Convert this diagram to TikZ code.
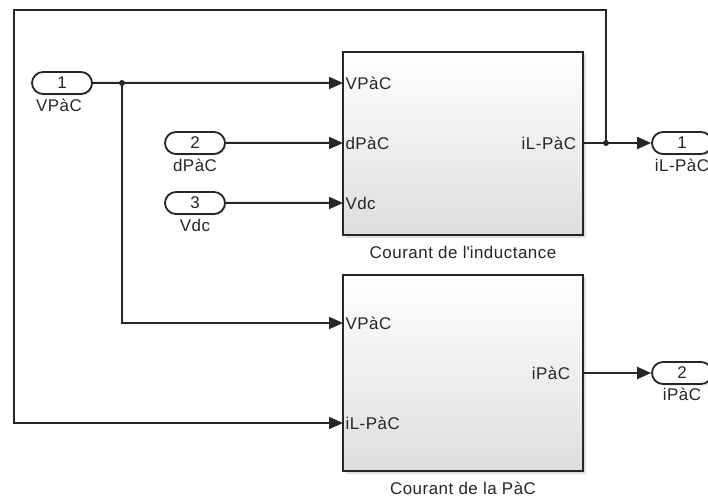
\documentclass[tikz,border=0pt]{standalone}
\usepackage{fontspec}
\setmainfont[LetterSpace=3]{Liberation Sans}
\usetikzlibrary{arrows.meta,shapes.misc,shadows,positioning}

\begin{document}
\begin{tikzpicture}[x=1bp,y=-1bp,line width=2bp,draw=black!85,
	every node/.style={font=\fontsize{17}{20}\selectfont,text=black!85}]
	\tikzstyle{port}=[rounded rectangle,draw,fill=white,line width=1.8bp,minimum width=60bp,minimum height=22bp,inner sep=0pt,drop shadow={opacity=0.2,shadow xshift=1.5bp,shadow yshift=-1.5bp}];
	\tikzstyle{blk}=[draw,line width=2bp,top color=white,bottom color=black!13,minimum width=240bp,inner sep=0pt,drop shadow={opacity=0.25,shadow xshift=2.5bp,shadow yshift=-2.5bp}];
	\tikzstyle{pin}=[inner sep=1.5bp];
	\tikzstyle{sig}=[-{Triangle[length=14bp,width=12bp]}];
	\tikzstyle{dot}=[circle,fill=black!85,inner sep=0pt,minimum size=6bp];

	\useasboundingbox (0,0) rectangle (708,498);
	\fill[white] (0,0) rectangle (708,498);

	% sous-systemes
	\node[blk,minimum height=183bp] (ind) at (463,143.5) {};
	\node[blk,minimum height=196bp] (pac) at (463,373) {};
	\node[below=6bp of ind] (ind-name) {Courant de l\textquotesingle inductance};
	\node[below=6bp of pac] (pac-name) {Courant de la PàC};

	\node[pin,anchor=west] (ind-v) at (343,83) {VPàC};
	\node[pin,anchor=west] (ind-d) at (343,143) {dPàC};
	\node[pin,anchor=west] (ind-vdc) at (343,203) {Vdc};
	\node[pin,anchor=east,inner xsep=6bp] (ind-o) at (583,143) {iL-PàC};
	\node[pin,anchor=west] (pac-v) at (343,323) {VPàC};
	\node[pin,anchor=west] (pac-il) at (343,423) {iL-PàC};
	\node[pin,anchor=east,inner xsep=12bp] (pac-o) at (583,373) {iPàC};

	% entrees / sorties
	\node[port] (in1) at (62,83) {1};
	\node[port] (in2) at (195,143) {2};
	\node[port] (in3) at (195,203) {3};
	\node[port] (out1) at (682,143) {1};
	\node[port] (out2) at (682,373) {2};
	\node[below=0bp of in1,xshift=-3bp] (in1-l) {VPàC};
	\node[below=0bp of in2] (in2-l) {dPàC};
	\node[below=0bp of in3] (in3-l) {Vdc};
	\node[below=0bp of out1] (out1-l) {iL-PàC};
	\node[below=-1bp of out2] (out2-l) {iPàC};

	% liaisons
	\coordinate (j1) at (122,83);
	\coordinate (j2) at (606,143);
	\coordinate (fb) at (14,10);
	\draw[sig] (in1) -- (ind-v.west);
	\draw[sig] (in2) -- (ind-d.west);
	\draw[sig] (in3) -- (ind-vdc.west);
	\draw[sig] (j1) |- (pac-v.west);
	\draw[sig] (ind-o.east) -- (out1);
	\draw[sig] (pac-o.east) -- (out2);
	\draw[sig] (j2) |- (fb) |- (pac-il.west);
	\node[dot] at (j1) {};
	\node[dot] at (j2) {};
\end{tikzpicture}
\end{document}
